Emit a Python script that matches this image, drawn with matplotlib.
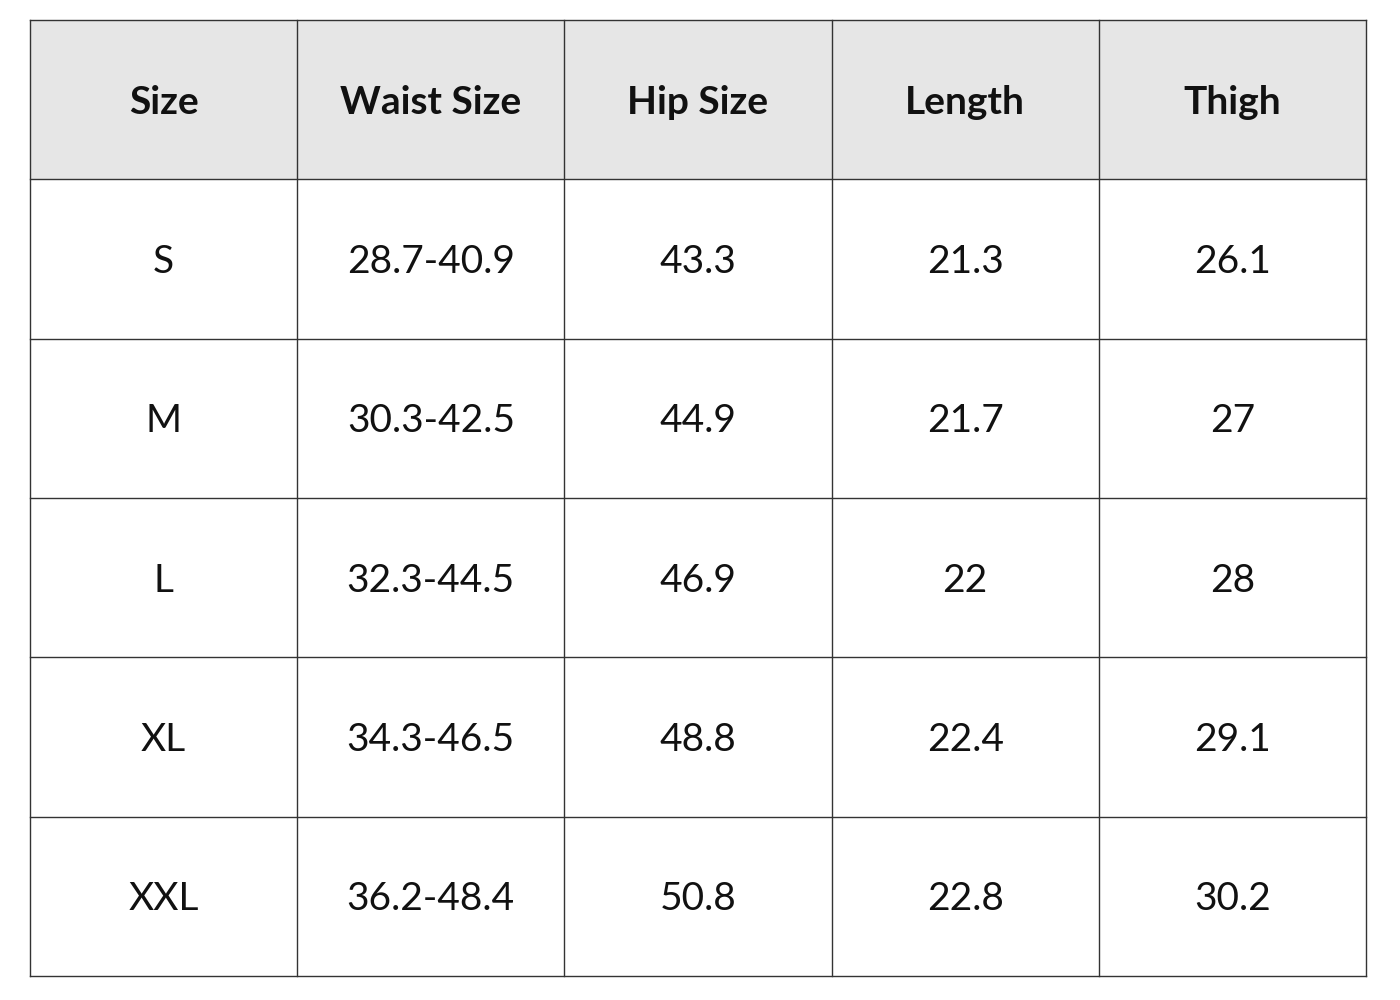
import matplotlib
matplotlib.use("Agg")
import matplotlib.pyplot as plt
from matplotlib.patches import Rectangle

columns = ["Size", "Waist Size", "Hip Size", "Length", "Thigh"]
sizes = ["S", "M", "L", "XL", "XXL"]
waist = ["28.7-40.9", "30.3-42.5", "32.3-44.5", "34.3-46.5", "36.2-48.4"]
hip = ["43.3", "44.9", "46.9", "48.8", "50.8"]
length = ["21.3", "21.7", "22", "22.4", "22.8"]
thigh = ["26.1", "27", "28", "29.1", "30.2"]

rows = list(zip(sizes, waist, hip, length, thigh))

fig = plt.figure(figsize=(14, 10), dpi=100)
ax = fig.add_axes([0, 0, 1, 1])
ax.set_xlim(0, 1400)
ax.set_ylim(1000, 0)
ax.axis("off")

x0, x1 = 30, 1366
y0, y1 = 20, 976
ncol = len(columns)
nrow = len(rows) + 1
cw = (x1 - x0) / ncol
rh = (y1 - y0) / nrow

ax.add_patch(Rectangle((x0, y0), x1 - x0, rh, facecolor="#e6e6e6", edgecolor="none"))
for i in range(ncol + 1):
    ax.plot([x0 + i * cw] * 2, [y0, y1], color="#333333", lw=1.0)
for j in range(nrow + 1):
    ax.plot([x0, x1], [y0 + j * rh] * 2, color="#333333", lw=1.0)

font = "Lato"
for i, c in enumerate(columns):
    ax.text(x0 + (i + 0.5) * cw, y0 + 0.5 * rh + 3, c, ha="center", va="center",
            fontsize=28, fontweight="bold", family=font, color="#111111")
for j, r in enumerate(rows):
    for i, v in enumerate(r):
        ax.text(x0 + (i + 0.5) * cw, y0 + (j + 1.5) * rh + 3, v, ha="center", va="center",
                fontsize=28, family=font, color="#111111")

fig.savefig("out.png", dpi=100, facecolor="white")
